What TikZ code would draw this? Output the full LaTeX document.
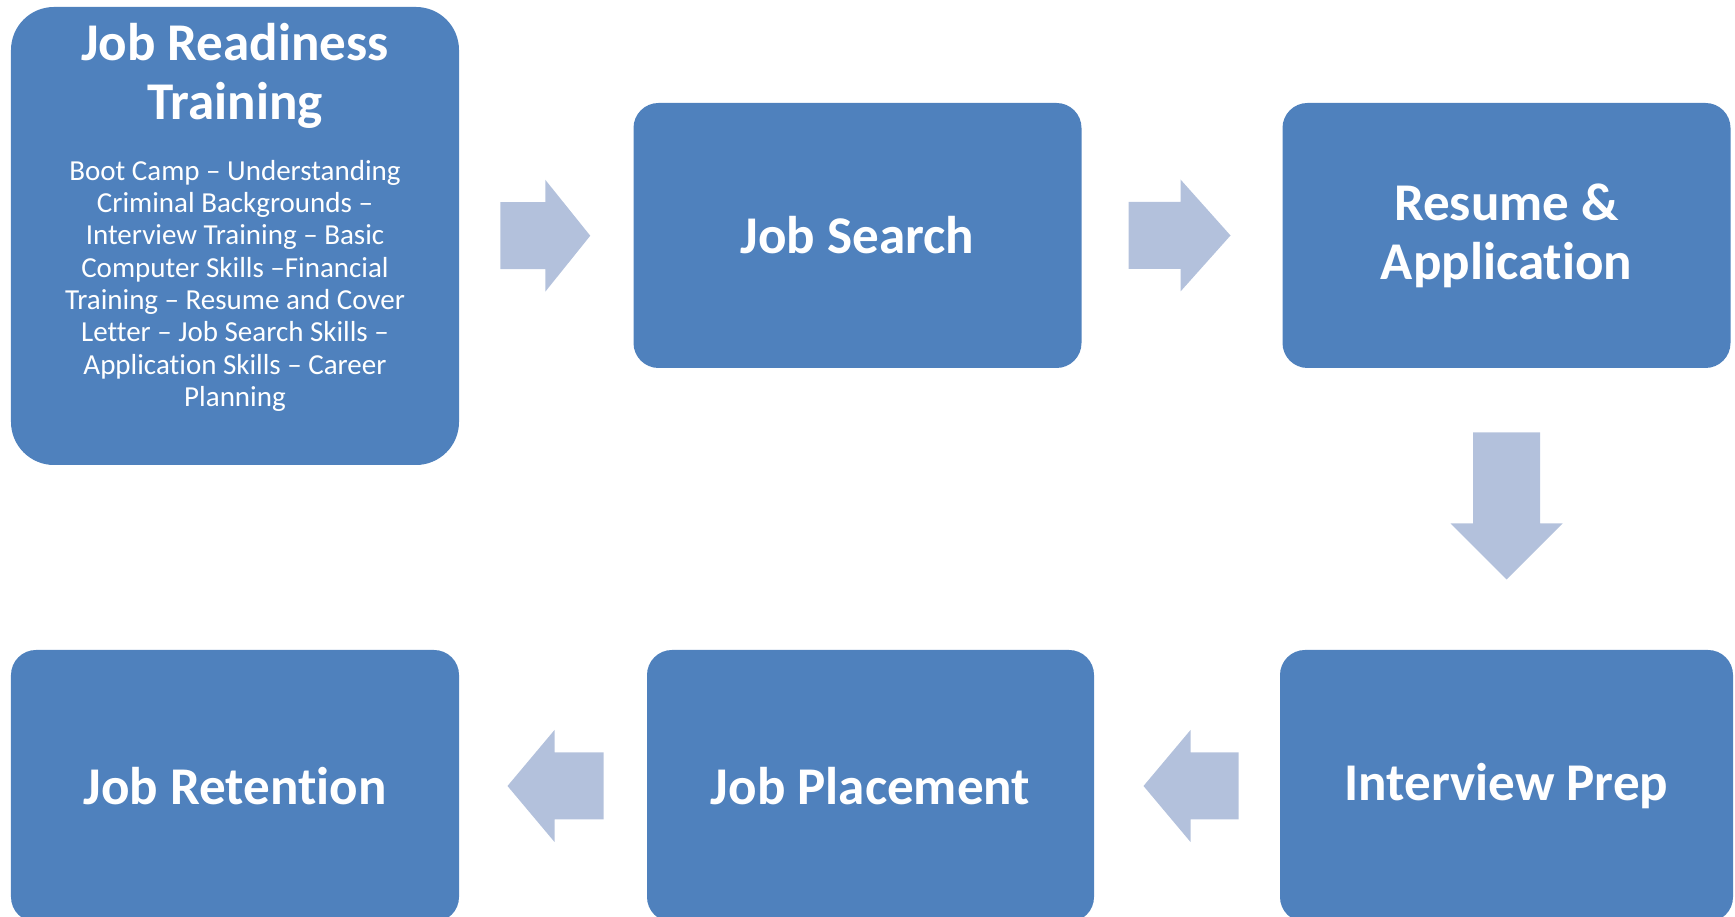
\documentclass[tikz,border=0pt]{standalone}
\usepackage{fontspec}
\setmainfont{Carlito}[Ligatures=NoCommon]
\usepackage{xcolor}
\usepackage{tikz}
\usetikzlibrary{positioning,calc}

\definecolor{boxblue}{RGB}{79,129,189}
\definecolor{arrowblue}{RGB}{179,193,220}

\tikzset{
    stepbox/.style={rectangle, rounded corners=0.5cm, fill=boxblue, text=white,
        inner sep=0pt, minimum width=8.96cm, align=center,
        font=\fontsize{30.2}{33.6}\selectfont\bfseries},
    toprow/.style={stepbox, minimum height=5.30cm},
    bottomrow/.style={stepbox, minimum height=5.44cm}
}

\begin{document}
\begin{tikzpicture}

\useasboundingbox (0,0) rectangle (34.7,18.34);

% Training box with its course list
\node[stepbox, rounded corners=0.86cm, minimum height=9.16cm] (train) at (4.7,13.62) {};
\node[text=white, inner sep=0pt, align=center, font=\fontsize{30.2}{33.6}\selectfont\bfseries,
    below=0.32cm of train.north] (traintitle) {Job Readiness\\Training};
\node[text=white, inner sep=0pt, align=center, font=\fontsize{16.5}{18.4}\selectfont,
    below=0.62cm of traintitle] (trainlist) {Boot Camp – Understanding\\
    Criminal Backgrounds –\\
    Interview Training – Basic\\
    Computer Skills –Financial\\
    Training – Resume and Cover\\
    Letter – Job Search Skills –\\
    Application Skills – Career\\
    Planning};

% Top row
\node[toprow] (search) at (17.15,13.63) {Job Search};
\node[toprow] (resume) at (30.13,13.63) {Resume \&\\Application};

% Bottom row
\node[bottomrow, minimum width=9.06cm] (interview) at (30.13,2.62) {Interview Prep};
\node[bottomrow, minimum width=8.94cm] (placement) at (17.41,2.62) {Job Placement};
\node[bottomrow] (retention) at (4.7,2.62) {Job Retention};

% Block arrows between the steps
\coordinate (a1) at ($(train.east)!0.5!(search.west)+(-0.02,0)$);
\coordinate (a2) at ($(search.east)!0.5!(resume.west)+(-0.05,0)$);
\coordinate (d1) at ($(resume.south)!0.5!(interview.north)+(0,0.06)$);
\coordinate (a3) at ($(interview.west)!0.5!(placement.east)+(0.08,0)$);
\coordinate (a4) at ($(placement.west)!0.5!(retention.east)+(0.05,0)$);

\foreach \pos/\rot/\len/\head in {
    a1/0/1.8/0.9,
    a2/0/2.04/1.0,
    d1/-90/2.94/1.12,
    a3/180/1.9/0.94,
    a4/180/1.92/0.94
} {
    \fill[arrowblue, shift={(\pos)}, rotate=\rot]
        ({-\len/2},0.67) -- ({\len/2-\head},0.67) -- ({\len/2-\head},1.12)
        -- ({\len/2},0) -- ({\len/2-\head},-1.12) -- ({\len/2-\head},-0.67)
        -- ({-\len/2},-0.67) -- cycle;
}

\end{tikzpicture}
\end{document}
